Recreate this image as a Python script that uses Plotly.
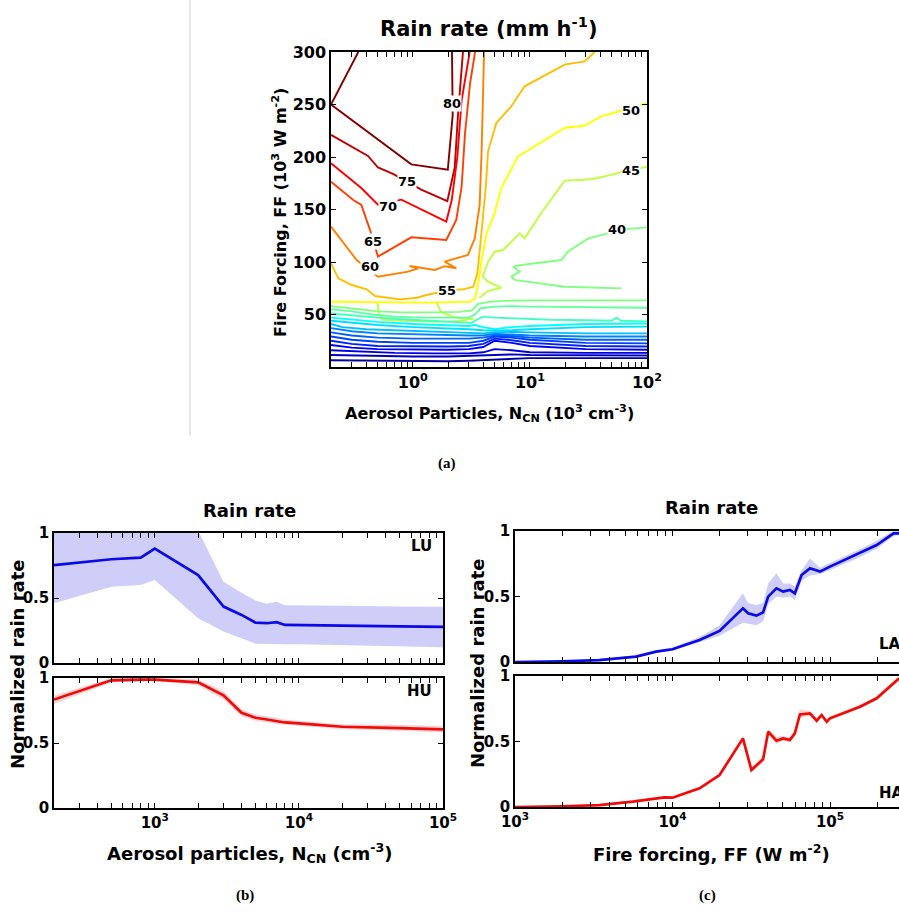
import numpy as np
import plotly.graph_objects as go

W, H = 899, 913

# ---------------- Panel (a): traced contour lines of rain rate ----------------
# x = N_CN (10^3 cm^-3), y = FF (10^3 W m^-2)
c80a_x = [0.342, 0.2]
c80a_y = [300, 250]
c80b_x = [0.2, 0.97, 1.99, 2.10, 2.19, 2.16]
c80b_y = [250, 193, 188, 216, 240, 300]
c75_x = [0.2, 0.414, 0.504, 0.677, 1.18, 1.97, 2.28, 2.43, 2.68]
c75_y = [221, 201, 190, 184, 169, 158, 190, 240, 300]
c70_x = [0.2, 0.363, 0.504, 0.798, 1.93, 2.15, 2.40, 2.61, 3.06]
c70_y = [194, 170.5, 154.6, 159.4, 138.4, 159, 200, 254, 300]
c65_x = [0.2, 0.31, 0.363, 0.431, 0.504, 0.97, 1.93, 2.35, 2.61, 2.79, 3.08, 3.40]
c65_y = [176.5, 159, 154.3, 130.5, 105.1, 123.5, 121, 140, 171.7, 222.5, 270, 300]
c60_x = [0.2, 0.264, 0.331, 0.504, 0.91, 1.11, 0.94, 1.54, 1.87, 2.35, 1.87, 2.96, 3.38, 3.72, 3.87, 4.06]
c60_y = [133.7, 116.2, 101.9, 86, 90.8, 94, 96.2, 92.4, 96, 94, 100.3, 106.7, 122.5, 154.3, 206.7, 300]
c55_x = [0.2, 0.231, 0.301, 0.404, 0.475, 0.778, 1.08, 1.31, 1.94, 2.70, 3.29, 3.56, 3.85, 4.2, 4.39,
         5.17, 6.94, 9.02, 19.8, 29.4, 35.7]
c55_y = [98.7, 84.4, 78.1, 74, 67.6, 64.4, 66, 68.6, 72.7, 74, 76.5, 89.2, 127.3, 171.7, 205.4,
         232.4, 248.3, 267.3, 288, 291.1, 300]
c50_x = [100, 89.5, 64.5, 40.7, 29.4, 19.8, 7.91, 5.7, 5.0, 4.27, 3.87, 3.62, 3.4, 3.08, 1.31, 0.681, 0.354, 0.2]
c50_y = [251, 249.8, 245, 238.7, 230, 227.6, 200.6, 170.5, 146.7, 127.3, 101.9, 79.7, 65.4, 62.2, 61.3, 61.6, 61.9, 62.2]
c45_x = [100, 64.5, 38.2, 29.4, 19.8, 12.5, 9.02, 8.18, 5.89, 5.0, 4.39, 3.95, 4.4, 5.7, 4.4, 3.7]
c45_y = [190.8, 186.3, 180, 178.4, 177.5, 146.7, 122.5, 127.3, 111.4, 109.8, 100.3, 86, 81, 75.5, 72.5, 66]
c45b_x = [0.5, 0.51, 0.55, 1.0, 1.6, 2.2, 2.9]
c45b_y = [61, 52, 45, 43.5, 43, 43.5, 44.5]
c45c_x = [1.6, 1.75, 2.2, 2.9, 3.3]
c45c_y = [61, 52, 48, 45.5, 46]
c40_x = [100, 78, 54.7, 46.5, 31.4, 21.1, 18.6, 8.45, 7.18, 8.18, 6.94, 7.41, 19.8, 60.5]
c40_y = [133, 132, 130.5, 127.3, 122.5, 109.8, 101.9, 97.1, 95.6, 90.8, 86, 82.9, 76.5, 74.9]
c40b_x = [0.2, 0.25, 0.35, 0.5, 0.8, 1.5, 2.5, 3.2, 3.6, 4.5, 6, 10, 20, 50, 100]
c40b_y = [58, 57, 55, 53, 52, 52, 52.5, 54, 60, 62, 63, 63.5, 63.5, 63, 63.5]
c37_x = [0.2, 0.3, 0.45, 0.7, 1.2, 2, 3, 3.4, 3.8, 5, 7, 10, 20, 40, 100]
c37_y = [55, 53, 50, 48, 47, 47, 47, 50, 56, 57.5, 58, 57.5, 57, 57, 56.5]
c35_x = [0.2, 0.3, 0.5, 0.8, 1.5, 2.5, 3.2, 3.5, 4, 5, 8, 15, 30, 50, 55, 60, 100]
c35_y = [51, 49, 47, 45.5, 44, 43, 42, 45, 48, 47, 46, 45, 44.5, 44, 47, 44, 43.5]
c30_x = [0.2, 0.3, 0.5, 1, 2, 3, 3.4, 4, 5, 7, 10, 30, 100]
c30_y = [47, 45, 43, 41, 40, 39, 40, 38, 36, 38, 39, 41, 41.5]
c27_x = [0.2, 0.3, 0.5, 1, 2, 3, 4, 5, 7, 10, 30, 100]
c27_y = [44, 42, 40, 38, 37, 36, 35, 34.5, 35, 36, 38, 38.5]
c25_x = [0.2, 0.25, 0.4, 0.7, 1.5, 3, 4, 5, 7, 10, 30, 100]
c25_y = [41, 38, 36, 35, 34, 33, 32, 33, 33.5, 33, 32, 32]
c20_x = [0.2, 0.3, 0.5, 1, 2, 3, 4, 5, 7, 10, 30, 100]
c20_y = [37, 34, 32, 31, 30, 30, 30, 31.5, 31, 30, 29, 29]
c17_x = [0.2, 0.3, 0.5, 1, 2, 3, 4, 5, 7, 10, 30, 100]
c17_y = [33, 30, 28, 27, 27, 27, 28, 30, 29.5, 28, 26, 26]
c15_x = [0.2, 0.3, 0.5, 1, 2, 3, 4, 5, 7, 10, 30, 100]
c15_y = [29, 26, 24, 23, 23, 23, 25, 29, 28, 26, 23, 22.5]
c12_x = [0.2, 0.3, 0.5, 1, 2, 3, 4, 5, 7, 10, 30, 100]
c12_y = [25, 22, 20, 19.5, 19.5, 20, 22, 27, 25.5, 23, 20, 19.5]
c10_x = [0.2, 0.3, 0.5, 1, 2, 3, 4, 5, 7, 10, 30, 100]
c10_y = [21, 18.5, 17, 16.5, 16.5, 17, 19, 25, 23, 20, 17, 16.5]
c7_x = [0.2, 0.4, 0.7, 1.5, 3, 4, 5, 7, 10, 30, 100]
c7_y = [16, 14.5, 13.5, 13, 13, 14, 17, 16, 14, 13.5, 13.5]
c5_x = [0.2, 0.5, 1, 2, 3, 5, 7, 10, 30, 100]
c5_y = [11.5, 10.5, 10, 10, 10.5, 11.5, 12, 11.5, 11, 11]
c2_x = [0.2, 0.5, 1, 2, 3, 5, 10, 100]
c2_y = [6.5, 6, 5.5, 5.5, 6, 7, 8.5, 8.5]

CONTOURS = [
    (80, c80a_x, c80a_y), (80, c80b_x, c80b_y), (75, c75_x, c75_y), (70, c70_x, c70_y),
    (65, c65_x, c65_y), (60, c60_x, c60_y), (55, c55_x, c55_y), (50, c50_x, c50_y),
    (45, c45_x, c45_y), (45, c45b_x, c45b_y), (45, c45c_x, c45c_y), (40, c40_x, c40_y),
    (40, c40b_x, c40b_y), (37.5, c37_x, c37_y), (35, c35_x, c35_y), (30, c30_x, c30_y),
    (27.5, c27_x, c27_y), (25, c25_x, c25_y), (20, c20_x, c20_y), (17.5, c17_x, c17_y),
    (15, c15_x, c15_y), (12.5, c12_x, c12_y), (10, c10_x, c10_y), (7.5, c7_x, c7_y),
    (5, c5_x, c5_y), (2.5, c2_x, c2_y),
]

CLABEL_TEXT = ["80", "75", "70", "65", "60", "55", "50", "45", "40"]
CLABEL_X = [2.15, 0.887, 0.618, 0.46, 0.43, 1.94, 73.6, 73.6, 55.0]
CLABEL_Y = [251, 176.5, 152.7, 119.4, 95.6, 73.3, 244, 187, 130.5]

A_X_MAJOR = [1, 10, 100]
A_X_MAJOR_TEXT = ["10<sup>0</sup>", "10<sup>1</sup>", "10<sup>2</sup>"]
A_Y_TICKS = [50, 100, 150, 200, 250, 300]

# ---------------- Panel (b): normalized rain rate vs N_CN ----------------
b_x = [200, 500, 800, 1000, 2000, 3000, 4000, 5000, 6000, 7000, 8000, 10000, 20000, 50000, 100000]
LU_mean = [0.753, 0.798, 0.811, 0.88, 0.676, 0.434, 0.37, 0.311, 0.306, 0.314, 0.293, 0.293, 0.288, 0.281, 0.278]
LU_upper = [1.05, 1.03, 1.05, 1.12, 1.02, 0.625, 0.54, 0.48, 0.455, 0.472, 0.445, 0.443, 0.44, 0.435, 0.433]
LU_lower = [0.459, 0.587, 0.6, 0.638, 0.344, 0.242, 0.19, 0.148, 0.145, 0.145, 0.145, 0.145, 0.14, 0.13, 0.122]
HU_mean = [0.834, 0.982, 0.987, 0.987, 0.967, 0.867, 0.732, 0.694, 0.681, 0.668, 0.658, 0.651, 0.625, 0.615, 0.605]
HU_upper = [0.865, 1.0, 1.0, 1.0, 0.99, 0.90, 0.76, 0.72, 0.705, 0.69, 0.68, 0.672, 0.645, 0.64, 0.63]
HU_lower = [0.80, 0.965, 0.975, 0.975, 0.945, 0.835, 0.705, 0.67, 0.66, 0.647, 0.637, 0.63, 0.605, 0.595, 0.58]

# ---------------- Panel (c): normalized rain rate vs FF ----------------
LA_x = [1000, 2000, 3430, 5870, 7870, 10000, 14860, 19900, 28000, 30200, 34100, 37600, 40500, 45700,
        50400, 55600, 59800, 66000, 74600, 86400, 100000, 155000, 198000, 253000, 275000]
LA_mean = [0.0, 0.005, 0.015, 0.041, 0.079, 0.097, 0.168, 0.237, 0.41, 0.372, 0.354, 0.379, 0.499, 0.562,
           0.537, 0.55, 0.524, 0.664, 0.715, 0.69, 0.728, 0.83, 0.893, 0.982, 0.982]
LA_upper = [0.003, 0.01, 0.022, 0.05, 0.09, 0.11, 0.19, 0.28, 0.524, 0.45, 0.435, 0.45, 0.6, 0.677,
            0.6, 0.6, 0.575, 0.7, 0.79, 0.72, 0.755, 0.86, 0.925, 1.0, 1.0]
LA_lower = [0.0, 0.0, 0.01, 0.033, 0.07, 0.086, 0.15, 0.2, 0.3, 0.29, 0.28, 0.31, 0.44, 0.5,
            0.49, 0.5, 0.473, 0.62, 0.66, 0.67, 0.7, 0.8, 0.865, 0.96, 0.97]
HA_x = [1000, 2000, 3430, 5590, 8890, 10000, 14860, 19900, 28000, 31700, 37600, 40500, 45700, 50400,
        55600, 59800, 64400, 74600, 82300, 88500, 95300, 100000, 155000, 198000, 275000]
HA_mean = [0.0, 0.005, 0.015, 0.041, 0.074, 0.071, 0.142, 0.244, 0.524, 0.282, 0.364, 0.575, 0.506, 0.524,
           0.511, 0.562, 0.707, 0.715, 0.659, 0.702, 0.651, 0.677, 0.766, 0.83, 0.982]
HA_upper = [0.003, 0.01, 0.023, 0.051, 0.084, 0.081, 0.154, 0.259, 0.544, 0.302, 0.389, 0.595, 0.536, 0.544,
            0.531, 0.582, 0.742, 0.735, 0.679, 0.717, 0.666, 0.692, 0.781, 0.845, 0.997]
HA_lower = [0.0, 0.0, 0.008, 0.032, 0.064, 0.061, 0.131, 0.229, 0.504, 0.262, 0.344, 0.555, 0.48, 0.505,
            0.492, 0.542, 0.68, 0.697, 0.642, 0.687, 0.636, 0.662, 0.751, 0.815, 0.967]

BC_X_MAJOR = [1e3, 1e4, 1e5]
BC_X_MAJOR_TEXT = ["10<sup>3</sup>", "10<sup>4</sup>", "10<sup>5</sup>"]
BC_Y_TICKS = [0, 0.5, 1]
BC_Y_TEXT = ["0", "0.5", "1"]

# ---------------- styling helpers ----------------
FONT = "DejaVu Sans"


def jet(t):
    t = min(max(t, 0.0), 1.0)
    r = min(max(1.5 - abs(4 * t - 3), 0), 1)
    g = min(max(1.5 - abs(4 * t - 2), 0), 1)
    b = min(max(1.5 - abs(4 * t - 1), 0), 1)
    return "rgb(%d,%d,%d)" % (round(r * 255), round(g * 255), round(b * 255))


def px(x):
    return x / W


def py(y):
    return 1 - y / H


def log_ticks(majors, major_text, lo, hi):
    vals, text = list(majors), list(major_text)
    dec = 10 ** np.floor(np.log10(lo))
    while dec < hi:
        for k in range(2, 10):
            v = k * dec
            if lo * 0.999 <= v <= hi * 1.001:
                vals.append(v)
                text.append("")
        dec *= 10
    return vals, text


fig = go.Figure()

# panel (a)
for lev, xs, ys in CONTOURS:
    fig.add_trace(go.Scatter(x=xs, y=ys, mode="lines", xaxis="x", yaxis="y",
                             line=dict(color=jet(lev / 80.0), width=1.9), hoverinfo="skip"))


def band(xs, up, lo, color, xa, ya):
    fig.add_trace(go.Scatter(x=list(xs) + list(xs)[::-1], y=list(up) + list(lo)[::-1],
                             fill="toself", fillcolor=color, line=dict(width=0),
                             mode="lines", xaxis=xa, yaxis=ya, hoverinfo="skip"))


def mline(xs, ys, color, xa, ya):
    fig.add_trace(go.Scatter(x=xs, y=ys, mode="lines", xaxis=xa, yaxis=ya,
                             line=dict(color=color, width=2.7), hoverinfo="skip"))


BLUE_BAND = "rgba(60,60,230,0.25)"
RED_BAND = "rgba(230,60,60,0.22)"
BLUE = "rgb(10,10,230)"
RED = "rgb(240,10,10)"

band(b_x, LU_upper, LU_lower, BLUE_BAND, "x2", "y2")
mline(b_x, LU_mean, BLUE, "x2", "y2")
band(b_x, HU_upper, HU_lower, RED_BAND, "x3", "y3")
mline(b_x, HU_mean, RED, "x3", "y3")
band(LA_x, LA_upper, LA_lower, BLUE_BAND, "x4", "y4")
mline(LA_x, LA_mean, BLUE, "x4", "y4")
band(HA_x, HA_upper, HA_lower, RED_BAND, "x5", "y5")
mline(HA_x, HA_mean, RED, "x5", "y5")

# LA / HA corner labels sit at the cropped right edge of panel (c)
c_lab_x = 10 ** (3 + (879 - 515) / 157.5)
for lab, yv, xa, ya in [("LA", 0.13, "x4", "y4"), ("HA", 0.10, "x5", "y5")]:
    fig.add_trace(go.Scatter(x=[c_lab_x], y=[yv], mode="text", text=[lab], textposition="middle right",
                             xaxis=xa, yaxis=ya, cliponaxis=False, hoverinfo="skip",
                             textfont=dict(family=FONT, size=15, color="black", weight="bold")))

common = dict(showline=True, linecolor="black", linewidth=1.5, ticks="inside", ticklen=5,
              tickwidth=1.2, tickcolor="black", showgrid=False, zeroline=False, automargin=False)

ax_a_vals, ax_a_text = log_ticks(A_X_MAJOR, A_X_MAJOR_TEXT, 0.2, 100)
bx_vals, bx_text = log_ticks(BC_X_MAJOR, BC_X_MAJOR_TEXT, 200, 1e5)
cx_vals, cx_text = log_ticks(BC_X_MAJOR, BC_X_MAJOR_TEXT, 1e3, 3e5)
blank_b = [""] * len(bx_vals)
blank_c = [""] * len(cx_vals)

tf16 = dict(family=FONT, size=16, color="black", weight="bold")
tf15 = dict(family=FONT, size=15, color="black", weight="bold")

c_right = 3 + (899 - 515) / 157.5

fig.update_layout(
    template="none",
    width=W, height=H, margin=dict(l=0, r=0, t=0, b=0, pad=0, autoexpand=False),
    paper_bgcolor="white", plot_bgcolor="white", showlegend=False,
    xaxis=dict(common, type="log", range=[np.log10(0.2), 2], domain=[px(331), px(647)], anchor="y",
               tickvals=ax_a_vals, ticktext=ax_a_text, tickfont=tf16, mirror="ticks"),
    yaxis=dict(common, range=[0, 300], domain=[py(367), py(52)], anchor="x",
               tickvals=A_Y_TICKS, tickfont=tf16, mirror="ticks"),
    xaxis2=dict(common, type="log", range=[np.log10(200), 5], domain=[px(54), px(443)], anchor="y2",
                tickvals=bx_vals, ticktext=blank_b, mirror="ticks"),
    yaxis2=dict(common, range=[0, 1], domain=[py(663), py(533)], anchor="x2",
                tickvals=BC_Y_TICKS, ticktext=BC_Y_TEXT, tickfont=tf15, mirror="ticks"),
    xaxis3=dict(common, type="log", range=[np.log10(200), 5], domain=[px(54), px(443)], anchor="y3",
                tickvals=bx_vals, ticktext=bx_text, tickfont=tf15, mirror="ticks"),
    yaxis3=dict(common, range=[0, 1], domain=[py(808), py(678)], anchor="x3",
                tickvals=BC_Y_TICKS, ticktext=BC_Y_TEXT, tickfont=tf15, mirror="ticks"),
    xaxis4=dict(common, type="log", range=[3, c_right], domain=[px(515), 1.0], anchor="y4",
                tickvals=cx_vals, ticktext=blank_c, mirror="ticks"),
    yaxis4=dict(common, range=[0, 1], domain=[py(662), py(531)], anchor="x4",
                tickvals=BC_Y_TICKS, ticktext=BC_Y_TEXT, tickfont=tf15, mirror=False),
    xaxis5=dict(common, type="log", range=[3, c_right], domain=[px(515), 1.0], anchor="y5",
                tickvals=cx_vals, ticktext=cx_text, tickfont=tf15, mirror="ticks"),
    yaxis5=dict(common, range=[0, 1], domain=[py(807), py(676)], anchor="x5",
                tickvals=BC_Y_TICKS, ticktext=BC_Y_TEXT, tickfont=tf15, mirror=False),
)

ann = []


def label(text, x, y, size, angle=0, xanchor="center", family=FONT):
    ann.append(dict(text=text, x=x, y=y, xref="paper", yref="paper", showarrow=False,
                    xanchor=xanchor, yanchor="middle", textangle=angle,
                    font=dict(family=family, size=size, color="black", weight="bold")))


label("Rain rate (mm h<sup>-1</sup>)", px(488), py(27), 21)
label("Fire Forcing, FF (10<sup>3</sup> W m<sup>-2</sup>)", px(280), py(213), 16, angle=-90)
label("Aerosol Particles, N<sub>CN</sub> (10<sup>3</sup> cm<sup>-3</sup>)", px(489), py(413), 16)
label("(a)", px(447), py(463), 15, family="Liberation Serif")
label("Rain rate", px(249), py(511), 18)
label("Normalized rain rate", px(17), py(664), 18, angle=-90)
label("Aerosol particles, N<sub>CN</sub> (cm<sup>-3</sup>)", px(249), py(853), 18)
label("(b)", px(245), py(895), 15, family="Liberation Serif")
label("LU", px(434), py(546), 15, xanchor="right")
label("HU", px(434), py(691), 15, xanchor="right")
label("Rain rate", px(711), py(508), 18)
label("Normalized rain rate", px(477), py(663), 18, angle=-90)
label("Fire forcing, FF (W m<sup>-2</sup>)", px(711), py(853), 18)
label("(c)", px(707), py(895), 15, family="Liberation Serif")

for t, xv, yv in zip(CLABEL_TEXT, CLABEL_X, CLABEL_Y):
    ann.append(dict(text=t, x=np.log10(xv), y=yv, xref="x", yref="y", showarrow=False,
                    bgcolor="white", borderpad=0,
                    font=dict(family=FONT, size=13, color="black", weight="bold")))

fig.update_layout(annotations=ann,
                  shapes=[dict(type="line", xref="paper", yref="paper", x0=px(190), x1=px(190),
                               y0=py(435), y1=1, line=dict(color="rgb(205,205,205)", width=1))])

fig.write_html("out.html")
